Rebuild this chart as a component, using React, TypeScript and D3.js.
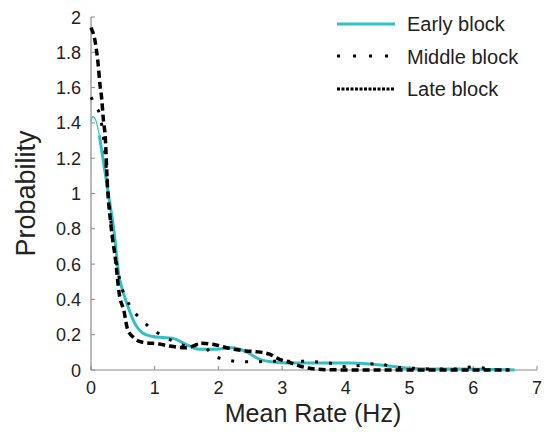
import React from "react";
import * as d3 from "d3";

const xTicks = [0, 1, 2, 3, 4, 5, 6, 7];
const yTicks = [0, 0.2, 0.4, 0.6, 0.8, 1, 1.2, 1.4, 1.6, 1.8, 2];
const yTickLabels = ["0", "0.2", "0.4", "0.6", "0.8", "1", "1.2", "1.4", "1.6", "1.8", "2"];

const earlyX = [0, 0.03, 0.08, 0.13, 0.2, 0.28, 0.36, 0.44, 0.49, 0.57, 0.68, 0.81, 0.96, 1.1, 1.28, 1.49, 1.7, 1.96, 2.22, 2.43, 2.64, 2.85, 3.1, 3.5, 4.06, 4.5, 4.95, 5.36, 5.9, 6.3, 6.65];
const earlyY = [1.41, 1.435, 1.41, 1.33, 1.17, 0.98, 0.79, 0.53, 0.46, 0.37, 0.27, 0.21, 0.19, 0.185, 0.18, 0.145, 0.117, 0.117, 0.126, 0.104, 0.062, 0.045, 0.04, 0.04, 0.04, 0.03, 0.012, 0.006, 0.005, 0.003, 0];

const middleX = [0, 0.08, 0.14, 0.2, 0.25, 0.31, 0.39, 0.47, 0.55, 0.6, 0.78, 0.94, 1.12, 1.38, 1.54, 1.72, 1.91, 2.14, 2.33, 2.59, 2.9, 3.37, 3.5, 3.8, 3.95, 4.27, 4.53, 4.69, 5.05, 5.4, 5.68, 5.99, 6.3];
const middleY = [1.545, 1.49, 1.445, 1.3, 1.1, 0.85, 0.63, 0.48, 0.41, 0.37, 0.29, 0.236, 0.195, 0.151, 0.132, 0.15, 0.085, 0.057, 0.047, 0.047, 0.05, 0.05, 0.047, 0.035, 0.02, 0.028, 0.038, 0.02, 0.01, 0.005, 0.005, 0.017, 0];

const lateX = [0, 0.07, 0.11, 0.14, 0.17, 0.19, 0.23, 0.25, 0.31, 0.39, 0.44, 0.52, 0.57, 0.68, 0.81, 1.07, 1.23, 1.49, 1.75, 1.96, 2.17, 2.43, 2.59, 2.8, 2.96, 3.1, 3.3, 3.53, 3.8, 4.5, 5.5, 6.57];
const lateY = [1.94, 1.85, 1.74, 1.62, 1.53, 1.435, 1.28, 1.1, 0.83, 0.61, 0.44, 0.33, 0.236, 0.18, 0.157, 0.147, 0.136, 0.126, 0.151, 0.142, 0.123, 0.108, 0.104, 0.09, 0.06, 0.045, 0.02, 0.005, 0.001, 0, 0, 0];

const legendLabels = ["Early block", "Middle block", "Late block"];

const CYAN = "#33bfc4";
const AXIS = "#8a8a8a";
const FONT = "'Liberation Sans', Arial, sans-serif";

export default function App() {
  const x = d3.scaleLinear().domain([0, 7]).range([91, 537]);
  const y = d3.scaleLinear().domain([0, 2]).range([370, 17]);
  const line = d3
    .line<[number, number]>()
    .x((d) => x(d[0]))
    .y((d) => y(d[1]))
    .curve(d3.curveMonotoneX);

  const early = earlyX.map((v, i) => [v, earlyY[i]] as [number, number]);
  const middle = middleX.map((v, i) => [v, middleY[i]] as [number, number]);
  const late = lateX.map((v, i) => [v, lateY[i]] as [number, number]);

  return (
    <svg
      width={546}
      height={435}
      style={{ position: "absolute", left: 0, top: 0, background: "#fff" }}
      fontFamily={FONT}
    >
      <rect width={546} height={435} fill="#fff" />
      {/* axes */}
      <line x1={x(0)} x2={x(7)} y1={y(0)} y2={y(0)} stroke={AXIS} strokeWidth={1.2} />
      <line x1={x(0)} x2={x(0)} y1={y(0)} y2={y(2)} stroke={AXIS} strokeWidth={1.2} />
      {xTicks.map((t) => (
        <g key={"xt" + t}>
          <line x1={x(t)} x2={x(t)} y1={y(0)} y2={y(0) - 4} stroke={AXIS} strokeWidth={1} />
          <text x={x(t)} y={y(0) + 24} fontSize={18} textAnchor="middle" fill="#222">
            {t}
          </text>
        </g>
      ))}
      {yTicks.map((t, i) => (
        <g key={"yt" + t}>
          <line x1={x(0)} x2={x(0) + 4} y1={y(t)} y2={y(t)} stroke={AXIS} strokeWidth={1} />
          <text x={x(0) - 10} y={y(t) + 6.5} fontSize={18} textAnchor="end" fill="#222">
            {yTickLabels[i]}
          </text>
        </g>
      ))}
      <text x={313} y={422} fontSize={25} textAnchor="middle" fill="#222">
        Mean Rate (Hz)
      </text>
      <text
        transform={`translate(35,${y(1)}) rotate(-90)`}
        fontSize={27}
        textAnchor="middle"
        fill="#222"
      >
        Probability
      </text>

      {/* series */}
      <path d={line(early.slice(0, 4)) || ""} fill="none" stroke={CYAN} strokeWidth={1.2} />
      <path d={line(early.slice(3)) || ""} fill="none" stroke={CYAN} strokeWidth={3} />
      <path
        d={line(middle) || ""}
        fill="none"
        stroke="#000"
        strokeWidth={3}
        strokeDasharray="3,11"
      />
      <path
        d={line(late) || ""}
        fill="none"
        stroke="#000"
        strokeWidth={3.5}
        strokeDasharray="7,4"
      />

      {/* legend */}
      <g>
        <line x1={337} x2={395} y1={24} y2={24} stroke={CYAN} strokeWidth={3} />
        <line x1={337} x2={395} y1={56} y2={56} stroke="#000" strokeWidth={3} strokeDasharray="3,13" />
        <line x1={337} x2={395} y1={89} y2={89} stroke="#000" strokeWidth={3} strokeDasharray="3,1.5" />
        {legendLabels.map((l, i) => (
          <text key={l} x={407} y={31 + i * 32.5} fontSize={20} fill="#222">
            {l}
          </text>
        ))}
      </g>
    </svg>
  );
}
